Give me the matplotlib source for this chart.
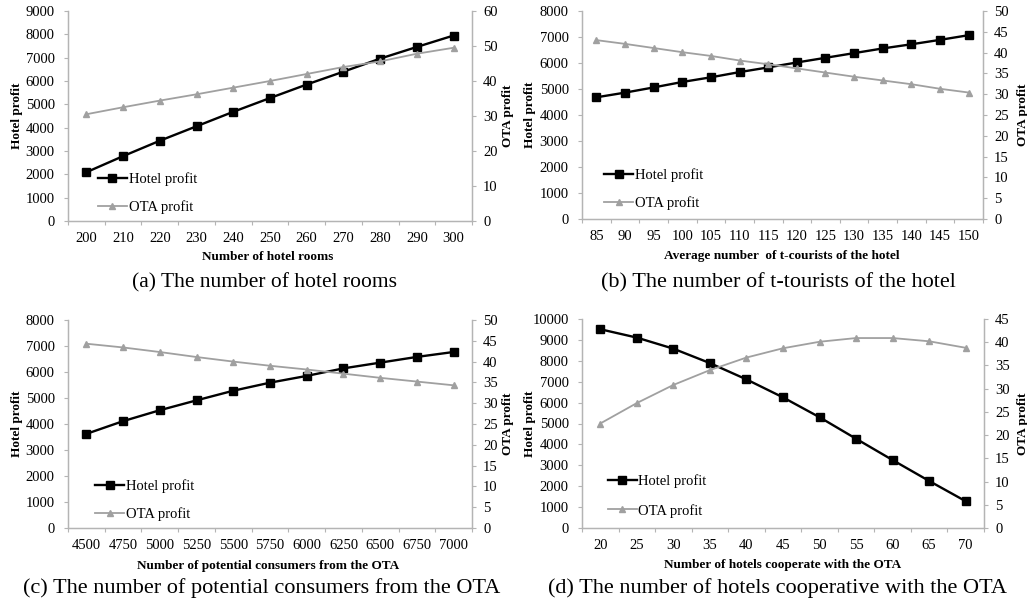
import numpy as np
import matplotlib
matplotlib.use("Agg")
import matplotlib.pyplot as plt

plt.rcParams['font.family'] = ['Liberation Serif', 'DejaVu Serif']

W, H = 1027, 603

# (a) hotel rooms
rooms = [200, 210, 220, 230, 240, 250, 260, 270, 280, 290, 300]
rooms_hotel = [2090, 2780, 3440, 4060, 4680, 5270, 5850, 6400, 6960, 7460, 7950]
rooms_ota = [30.5, 32.5, 34.4, 36.2, 38.1, 40.0, 42.0, 44.0, 45.6, 47.8, 49.5]

# (b) average number of t-tourists
tourists = [85, 90, 95, 100, 105, 110, 115, 120, 125, 130, 135, 140, 145, 150]
tourists_hotel = [4680, 4860, 5060, 5270, 5450, 5650, 5830, 6020, 6200, 6380,
                  6560, 6720, 6890, 7070]
tourists_ota = [43.0, 42.1, 41.1, 40.1, 39.2, 38.1, 37.2, 36.2, 35.2, 34.2,
                33.3, 32.4, 31.3, 30.4]

# (c) potential consumers from the OTA
consumers = [4500, 4750, 5000, 5250, 5500, 5750, 6000, 6250, 6500, 6750, 7000]
consumers_hotel = [3620, 4110, 4530, 4910, 5280, 5590, 5850, 6140, 6360, 6580, 6770]
consumers_ota = [44.3, 43.4, 42.3, 41.1, 40.0, 39.0, 38.1, 37.1, 36.1, 35.2, 34.3]

# (d) hotels cooperating with the OTA
hotels = [20, 25, 30, 35, 40, 45, 50, 55, 60, 65, 70]
hotels_hotel = [9510, 9110, 8580, 7890, 7110, 6250, 5300, 4270, 3250, 2250, 1280]
hotels_ota = [22.5, 26.9, 30.8, 34.0, 36.7, 38.7, 40.1, 40.9, 40.9, 40.2, 38.8]

panels = [
    dict(x=rooms, hotel=rooms_hotel, ota=rooms_ota,
         box=(68, 11, 472, 221), ylim=(0, 9000, 1000), y2=(0, 60, 10),
         xlabel='Number of hotel rooms', xl=(268, 257),
         caption='(a) The number of hotel rooms', cap=(265, 283), capsize=15.5,
         yl=17, y2l=508, leg=(0.074, 0.033, 0.97)),
    dict(x=tourists, hotel=tourists_hotel, ota=tourists_ota,
         box=(582, 11, 983, 219), ylim=(0, 8000, 1000), y2=(0, 50, 5),
         xlabel='Average number  of t-courists of the hotel', xl=(782, 256),
         caption='(b) The number of t-tourists of the hotel', cap=(778, 283), capsize=16,
         yl=530, y2l=1023, leg=(0.055, 0.045, 0.93)),
    dict(x=consumers, hotel=consumers_hotel, ota=consumers_ota,
         box=(68, 320, 472, 528), ylim=(0, 8000, 1000), y2=(0, 50, 5),
         xlabel='Number of potential consumers from the OTA', xl=(268, 566),
         caption='(c) The number of potential consumers from the OTA', cap=(262, 588),
         capsize=16,
         yl=17, y2l=508, leg=(0.067, 0.035, 0.93)),
    dict(x=hotels, hotel=hotels_hotel, ota=hotels_ota,
         box=(582, 319, 984, 528), ylim=(0, 10000, 1000), y2=(0, 45, 5),
         xlabel='Number of hotels cooperate with the OTA', xl=(783, 565),
         caption='(d) The number of hotels cooperative with the OTA', cap=(778, 588),
         capsize=16,
         yl=530, y2l=1023, leg=(0.064, 0.05, 1.1)),
]

spine_col = '#b4b4b4'
grey = '#a0a0a0'

fig = plt.figure(figsize=(W / 100, H / 100), dpi=100)


def fx(px):
    return px / W


def fy(py):
    return 1 - py / H


for p in panels:
    x0, y0, x1, y1 = p['box']
    ax = fig.add_axes([fx(x0), fy(y1), (x1 - x0) / W, (y1 - y0) / H])
    ax2 = ax.twinx()
    n = len(p['x'])
    idx = np.arange(n)

    h1, = ax.plot(idx, p['hotel'], color='black', lw=1.7, marker='s',
                  markersize=5.5, label='Hotel profit', zorder=3)
    h2, = ax2.plot(idx, p['ota'], color=grey, lw=1.3, marker='^',
                   markersize=4.5, label='OTA profit')

    ax.set_xlim(-0.5, n - 0.5)
    ax.set_ylim(p['ylim'][0], p['ylim'][1])
    ax.set_yticks(np.arange(p['ylim'][0], p['ylim'][1] + 1, p['ylim'][2]))
    ax2.set_ylim(p['y2'][0], p['y2'][1])
    ax2.set_yticks(np.arange(p['y2'][0], p['y2'][1] + 0.1, p['y2'][2]))

    # category labels sit between the tick marks
    ax.set_xticks(idx)
    ax.set_xticklabels([str(v) for v in p['x']])
    ax.set_xticks(np.arange(n + 1) - 0.5, minor=True)
    ax.tick_params(axis='x', which='major', length=0, pad=8, labelsize=10.5)
    ax.tick_params(axis='x', which='minor', length=3, width=0.8, color=spine_col)
    ax.tick_params(axis='y', length=3, width=0.8, color=spine_col, pad=6.5, labelsize=10.5)
    ax2.tick_params(axis='y', length=3, width=0.8, color=spine_col, pad=5, labelsize=10.5)

    for a in (ax, ax2):
        a.spines['top'].set_visible(False)
        for s in ('left', 'right', 'bottom'):
            a.spines[s].set_color(spine_col)
            a.spines[s].set_linewidth(0.9)

    lx, ly, ls = p['leg']
    ax.legend([h1, h2], ['Hotel profit', 'OTA profit'], loc='lower left',
              bbox_to_anchor=(lx, ly), frameon=False, fontsize=10.5,
              handlelength=2.0, handletextpad=0.1, labelspacing=ls,
              borderpad=0, borderaxespad=0)

    fig.text(fx(p['xl'][0]), fy(p['xl'][1]), p['xlabel'], ha='center', va='center',
             fontsize=9.5, fontweight='bold')
    fig.text(fx(p['yl']), fy((y0 + y1) / 2), 'Hotel profit', rotation=90,
             ha='center', va='center', fontsize=9.5, fontweight='bold')
    fig.text(fx(p['y2l']), fy((y0 + y1) / 2), 'OTA profit', rotation=90,
             ha='center', va='center', fontsize=9.5, fontweight='bold')
    fig.text(fx(p['cap'][0]), fy(p['cap'][1]), p['caption'], ha='center',
             va='center', fontsize=p['capsize'])

fig.savefig('out.png', dpi=100, facecolor='white')
